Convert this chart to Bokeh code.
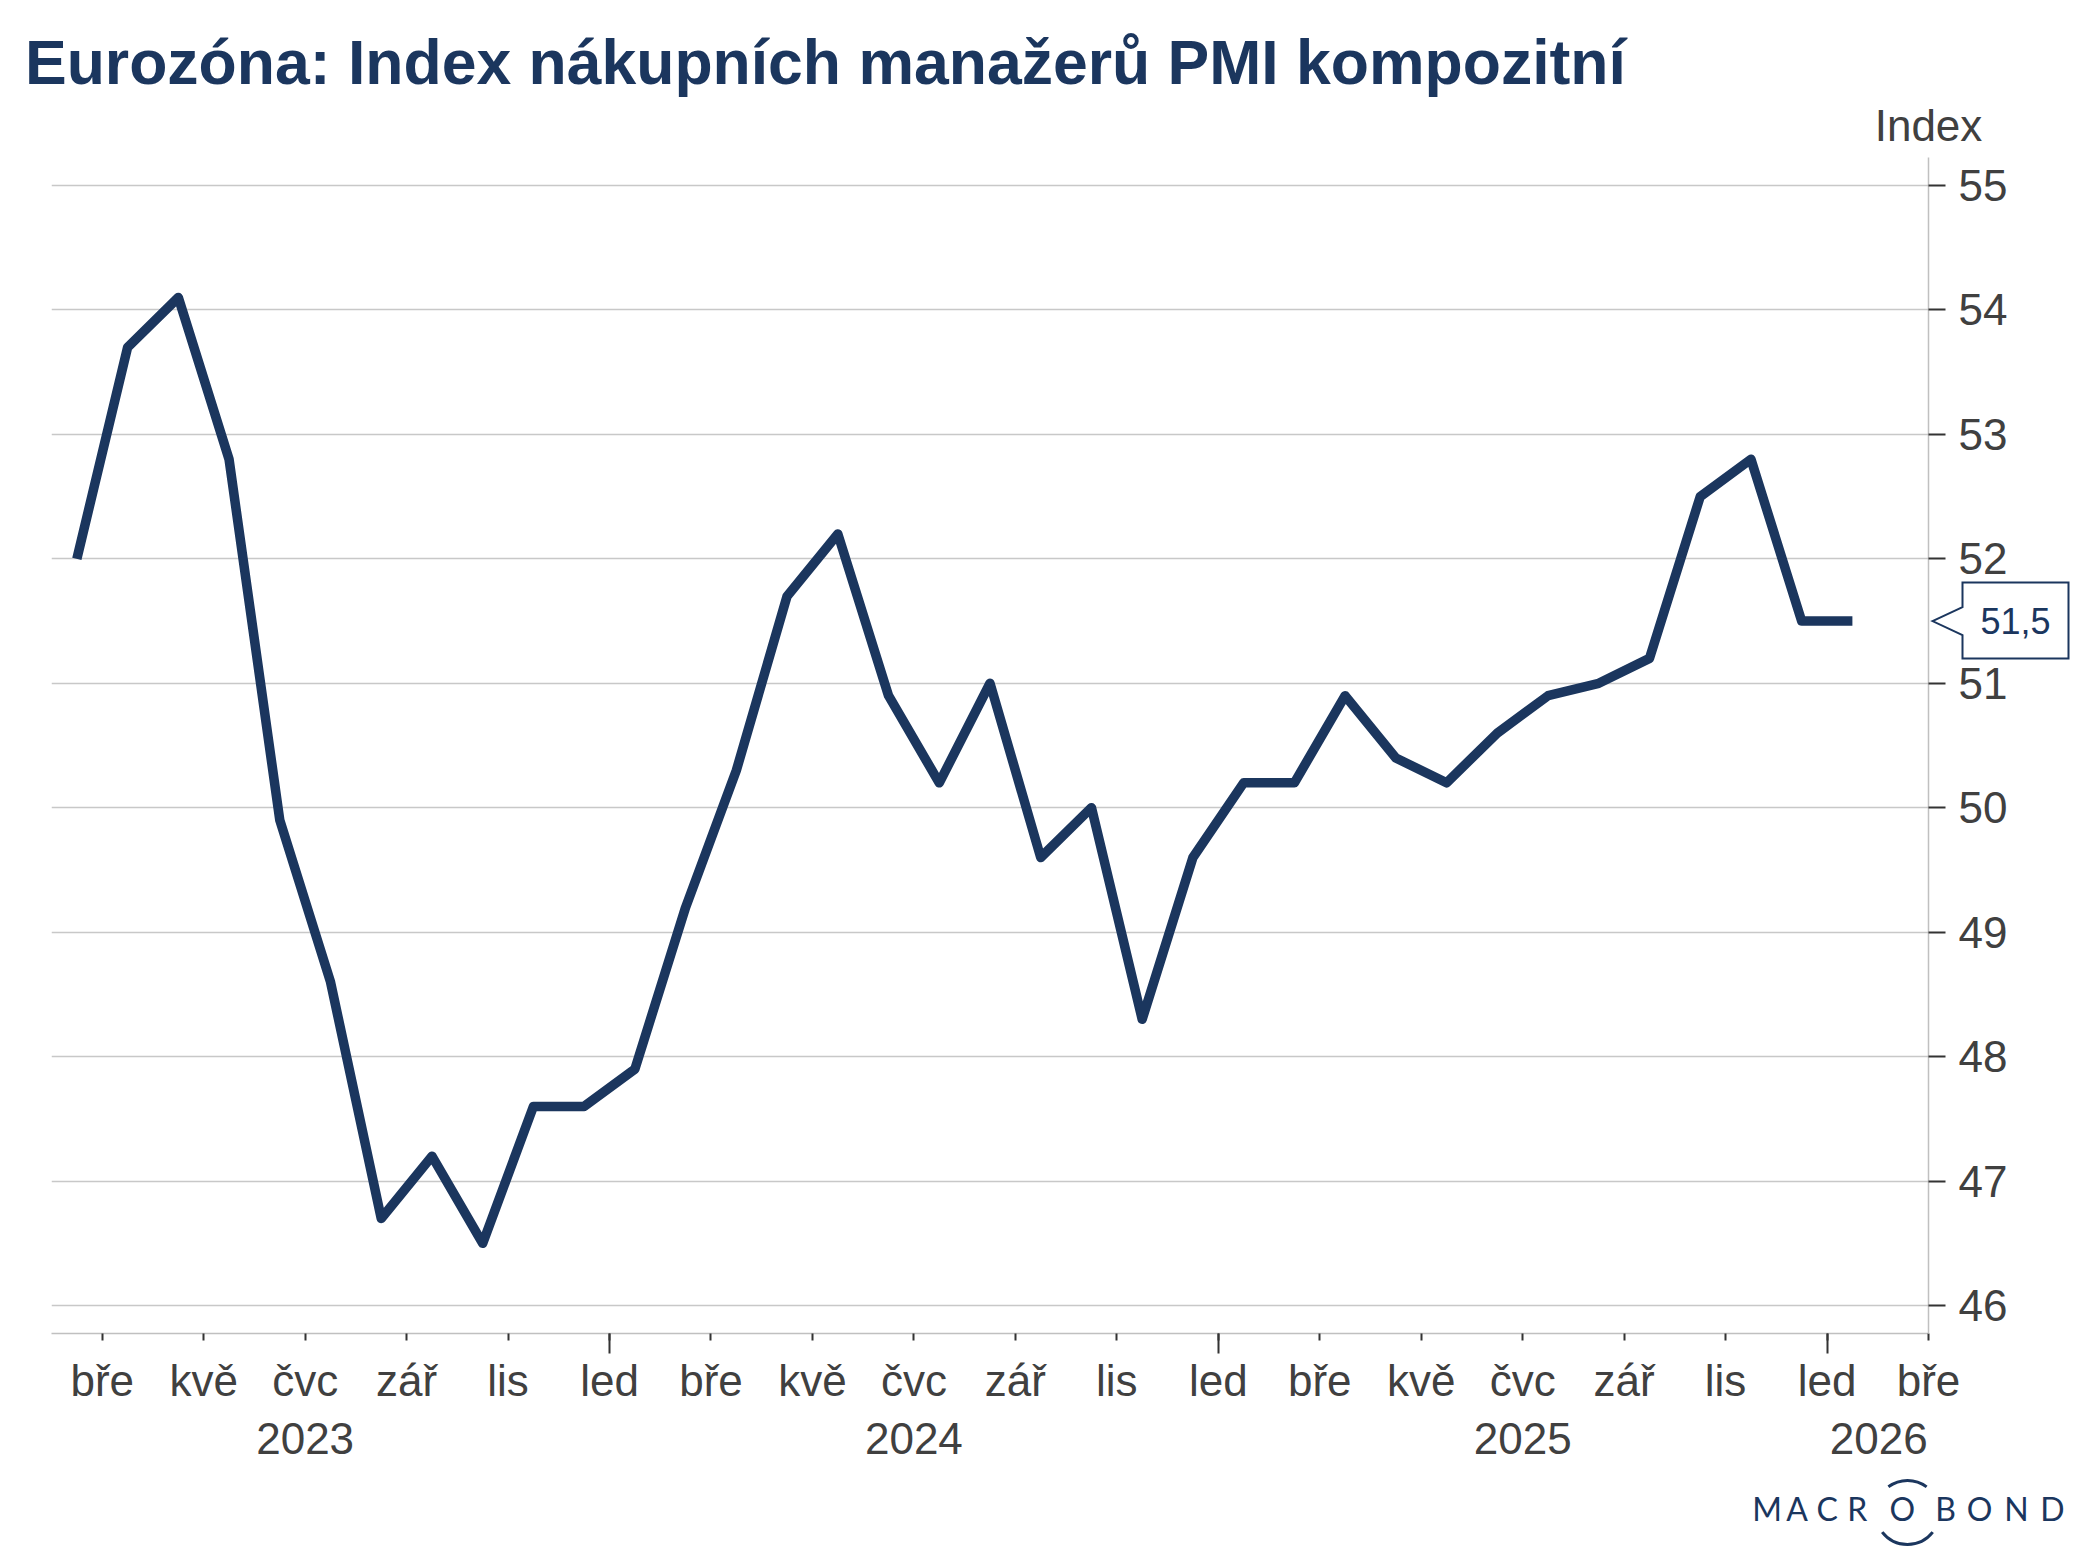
from bokeh.plotting import figure
from bokeh.models import FixedTicker, LinearAxis, Range1d
from bokeh.core.properties import value
from bokeh.embed import file_html
from bokeh.resources import INLINE

# ---------------- data ----------------
months = ["2023-02", "2023-03", "2023-04", "2023-05", "2023-06", "2023-07",
          "2023-08", "2023-09", "2023-10", "2023-11", "2023-12", "2024-01",
          "2024-02", "2024-03", "2024-04", "2024-05", "2024-06", "2024-07",
          "2024-08", "2024-09", "2024-10", "2024-11", "2024-12", "2025-01",
          "2025-02", "2025-03", "2025-04", "2025-05", "2025-06", "2025-07",
          "2025-08", "2025-09", "2025-10", "2025-11", "2025-12", "2026-01"]
pmi = [52.0, 53.7, 54.1, 52.8, 49.9, 48.6, 46.7, 47.2, 46.5, 47.6, 47.6, 47.9,
       49.2, 50.3, 51.7, 52.2, 50.9, 50.2, 51.0, 49.6, 50.0, 48.3, 49.6, 50.2,
       50.2, 50.9, 50.4, 50.2, 50.6, 50.9, 51.0, 51.2, 52.5, 52.8, 51.5, 51.5]

# month axis: months counted from Jan 2023 (0 = start of Jan 2023)
month_tick_pos = [2, 4, 6, 8, 10, 12, 14, 16, 18, 20, 22, 24, 26, 28, 30, 32, 34, 36, 38]
month_tick_labels = ["bře", "kvě", "čvc", "zář", "lis", "led",
                     "bře", "kvě", "čvc", "zář", "lis", "led",
                     "bře", "kvě", "čvc", "zář", "lis", "led", "bře"]
jan_tick_pos = [12, 24, 36]
year_pos = [6, 18, 30, 37.02]
year_labels = ["2023", "2024", "2025", "2026"]
y_ticks = [46, 47, 48, 49, 50, 51, 52, 53, 54, 55]

title_text = "Eurozóna: Index nákupních manažerů PMI kompozitní"
unit_text = "Index"
logo_letters = ["M", "A", "C", "R", "O", "B", "O", "N", "D"]

# ---------------- styling ----------------
NAVY = "#1b365e"
TXT = "#404040"
GRID = "#c8c8c8"
FONT = "Liberation Sans"

W, H = 2077, 1552
FL, FR, FT, FB = 51, 1928, 157, 1333
X0, X1 = 1.0, 38.0
Y0, Y1 = 45.775, 55.225
PPX = (FR - FL) / (X1 - X0)
PPY = (FB - FT) / (Y1 - Y0)


def fx(px):
    return X0 + (px - FL) / PPX


def fy(py):
    return Y1 - (py - FT) / PPY


xs = [(int(m[:4]) - 2023) * 12 + (int(m[5:]) - 1) + 0.5 for m in months]

p = figure(width=W, height=H, x_range=Range1d(X0, X1), y_range=Range1d(Y0, Y1),
           y_axis_location="right", output_backend="svg", toolbar_location=None,
           min_border_left=FL, min_border_right=W - FR, min_border_top=FT,
           min_border_bottom=H - FB, title=None)
p.outline_line_color = None
p.background_fill_color = "white"
p.border_fill_color = "white"

# y axis (right)
yax = p.yaxis[0]
yax.ticker = FixedTicker(ticks=y_ticks)
yax.major_tick_out = 17
yax.major_tick_in = 0
yax.minor_tick_out = 0
yax.minor_tick_in = 0
yax.major_tick_line_color = "#333333"
yax.major_tick_line_width = 2
yax.axis_line_color = "#c0c0c0"
yax.axis_line_width = 1.5
yax.major_label_text_font = FONT
yax.major_label_text_font_size = "44px"
yax.major_label_text_color = TXT
yax.major_label_standoff = 13

p.ygrid.ticker = FixedTicker(ticks=y_ticks)
p.ygrid.grid_line_color = GRID
p.ygrid.grid_line_width = 1.5
p.xgrid.visible = False

# x axis (months)
xax = p.xaxis[0]
xax.ticker = FixedTicker(ticks=month_tick_pos, minor_ticks=jan_tick_pos)
xax.major_label_overrides = {t: l for t, l in zip(month_tick_pos, month_tick_labels)}
xax.major_tick_out = 7
xax.major_tick_in = 0
xax.minor_tick_out = 20
xax.minor_tick_in = 0
xax.major_tick_line_color = "#333333"
xax.minor_tick_line_color = "#333333"
xax.major_tick_line_width = 2
xax.minor_tick_line_width = 2
xax.axis_line_color = "#c0c0c0"
xax.axis_line_width = 1.5
xax.major_label_text_font = FONT
xax.major_label_text_font_size = "44px"
xax.major_label_text_color = TXT
xax.major_label_standoff = 2

# x axis (years)
yrax = LinearAxis(ticker=FixedTicker(ticks=year_pos),
                  major_label_overrides={t: l for t, l in zip(year_pos, year_labels)},
                  major_tick_out=0, major_tick_in=0, minor_tick_out=0, minor_tick_in=0,
                  axis_line_color=None, major_tick_line_color=None,
                  minor_tick_line_color=None,
                  major_label_text_font=FONT, major_label_text_font_size="44px",
                  major_label_text_color=TXT, major_label_standoff=15)
p.add_layout(yrax, "below")

# series
p.line(xs, pmi, line_width=9.5, line_color=NAVY, line_join="round", line_cap="butt")

# ---------------- transparent overlay (same scale) for texts outside the frame ----------------
o = figure(width=W, height=H, x_range=Range1d(fx(0), fx(W)), y_range=Range1d(fy(H), fy(0)),
           x_axis_type=None, y_axis_type=None, output_backend="svg",
           toolbar_location=None, min_border=0, min_border_left=0, min_border_right=0,
           min_border_top=0, min_border_bottom=0, title=None)
o.outline_line_color = None
o.background_fill_color = None
o.border_fill_color = None
o.margin = (-H, 0, 0, 0)

o.text(x=[fx(24.5)], y=[fy(61)], text=[title_text], text_font=value(FONT),
       text_font_size=value("62.5px"), text_font_style="bold", text_color=NAVY,
       text_align="left", text_baseline="middle")
o.text(x=[X1], y=[fy(125)], text=[unit_text], text_font=value(FONT),
       text_font_size=value("44px"), text_color=TXT,
       text_align="center", text_baseline="middle")

# last value callout
last = pmi[-1]
tip_x = X1 + 4 / PPX
bl, br = X1 + 34 / PPX, X1 + 140 / PPX
top, bot = last + 38.5 / PPY, last - 37.5 / PPY
bt, bb = last + 14 / PPY, last - 14 / PPY
o.patch([tip_x, bl, bl, br, br, bl, bl, tip_x], [last, bt, top, top, bot, bot, bb, last],
        fill_color="white", line_color=NAVY, line_width=2, line_join="miter")
o.text(x=[X1 + 87 / PPX], y=[last], text=[f"{last:.1f}".replace(".", ",")],
       text_font=value(FONT), text_font_size=value("36px"), text_color=NAVY,
       text_align="center", text_baseline="middle")

# logo
logo_cx = [1766.7, 1796.7, 1826.7, 1856.7, 1901.7, 1945.0, 1979.0, 2016.0, 2052.0]
o.text(x=[fx(c) for c in logo_cx], y=[fy(1508)] * len(logo_cx), text=logo_letters,
       text_font=value("Lato"), text_font_size=value("32px"), text_color=NAVY,
       text_align="center", text_baseline="middle")
o.arc(x=[fx(1907)], y=[fy(1512)], radius=32, radius_units="screen",
      start_angle=0.93, end_angle=2.21, line_color=NAVY, line_width=3)
o.arc(x=[fx(1907)], y=[fy(1512)], radius=32, radius_units="screen",
      start_angle=3.80, end_angle=5.62, line_color=NAVY, line_width=3)

open("out.html", "w").write(file_html([p, o], INLINE))
